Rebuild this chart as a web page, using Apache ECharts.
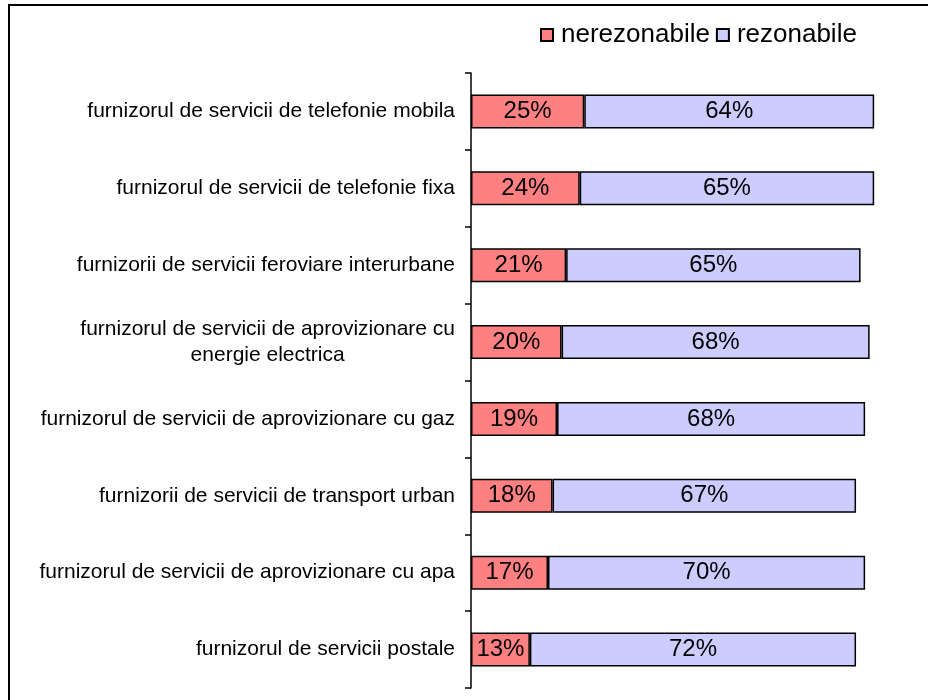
<!DOCTYPE html>
<html>
<head>
<meta charset="utf-8">
<script src="https://cdn.jsdelivr.net/npm/echarts@6/dist/echarts.min.js"></script>
<style>
  html, body { margin: 0; padding: 0; background: #fff; }
  #chart { width: 928px; height: 700px; }
</style>
</head>
<body>
<div id="chart"></div>
<script>
var categories = [
  'furnizorul de servicii de telefonie mobila',
  'furnizorul de servicii de telefonie fixa',
  'furnizorii de servicii feroviare interurbane',
  'furnizorul de servicii de aprovizionare cu\nenergie electrica',
  'furnizorul de servicii de aprovizionare cu gaz',
  'furnizorii de servicii de transport urban',
  'furnizorul de servicii de aprovizionare cu apa',
  'furnizorul de servicii postale'
];
var nerezonabile = [25, 24, 21, 20, 19, 18, 17, 13];
var rezonabile = [64, 65, 65, 68, 68, 67, 70, 72];

var chart = echarts.init(document.getElementById('chart'));
var barLabel = {
  show: true,
  position: 'inside',
  formatter: '{c}%',
  color: '#000',
  fontSize: 24,
  fontFamily: 'Liberation Sans'
};
chart.setOption({
  animation: false,
  textStyle: { fontFamily: 'Liberation Sans' },
  graphic: [{
    type: 'rect',
    shape: { x: 9, y: 5, width: 940, height: 720 },
    style: { fill: 'none', stroke: '#000', lineWidth: 2 }
  }],
  legend: {
    left: 535,
    top: 17,
    icon: 'rect',
    itemWidth: 12,
    itemHeight: 12,
    itemGap: 6,
    textStyle: { fontSize: 26, color: '#000', padding: [0, 0, 0, 3] },
    data: ['nerezonabile', 'rezonabile']
  },
  grid: { left: 471, right: 4, top: 73, bottom: 12, containLabel: false },
  xAxis: { type: 'value', min: 0, max: 100, show: false },
  yAxis: {
    type: 'category',
    inverse: true,
    data: categories,
    axisLine: { lineStyle: { color: '#000', width: 1.5 } },
    axisTick: { show: true, length: 6, lineStyle: { color: '#000', width: 1.5 } },
    axisLabel: {
      color: '#000',
      fontSize: 21,
      margin: 16,
      lineHeight: 26,
      formatter: function (v) {
        return v.indexOf('\n') >= 0 ? '{c|' + v.split('\n').join('}\n{c|') + '}' : v;
      },
      rich: { c: { align: 'center', fontSize: 21, lineHeight: 26, color: '#000' } }
    }
  },
  series: [
    {
      name: 'nerezonabile',
      type: 'bar',
      stack: 'all',
      barWidth: 34,
      data: nerezonabile,
      itemStyle: { color: '#FF8080', borderColor: '#000', borderWidth: 1.5 },
      label: barLabel
    },
    {
      name: 'rezonabile',
      type: 'bar',
      stack: 'all',
      barWidth: 34,
      data: rezonabile,
      itemStyle: { color: '#CCCCFF', borderColor: '#000', borderWidth: 1.5 },
      label: barLabel
    }
  ]
});
</script>
</body>
</html>
